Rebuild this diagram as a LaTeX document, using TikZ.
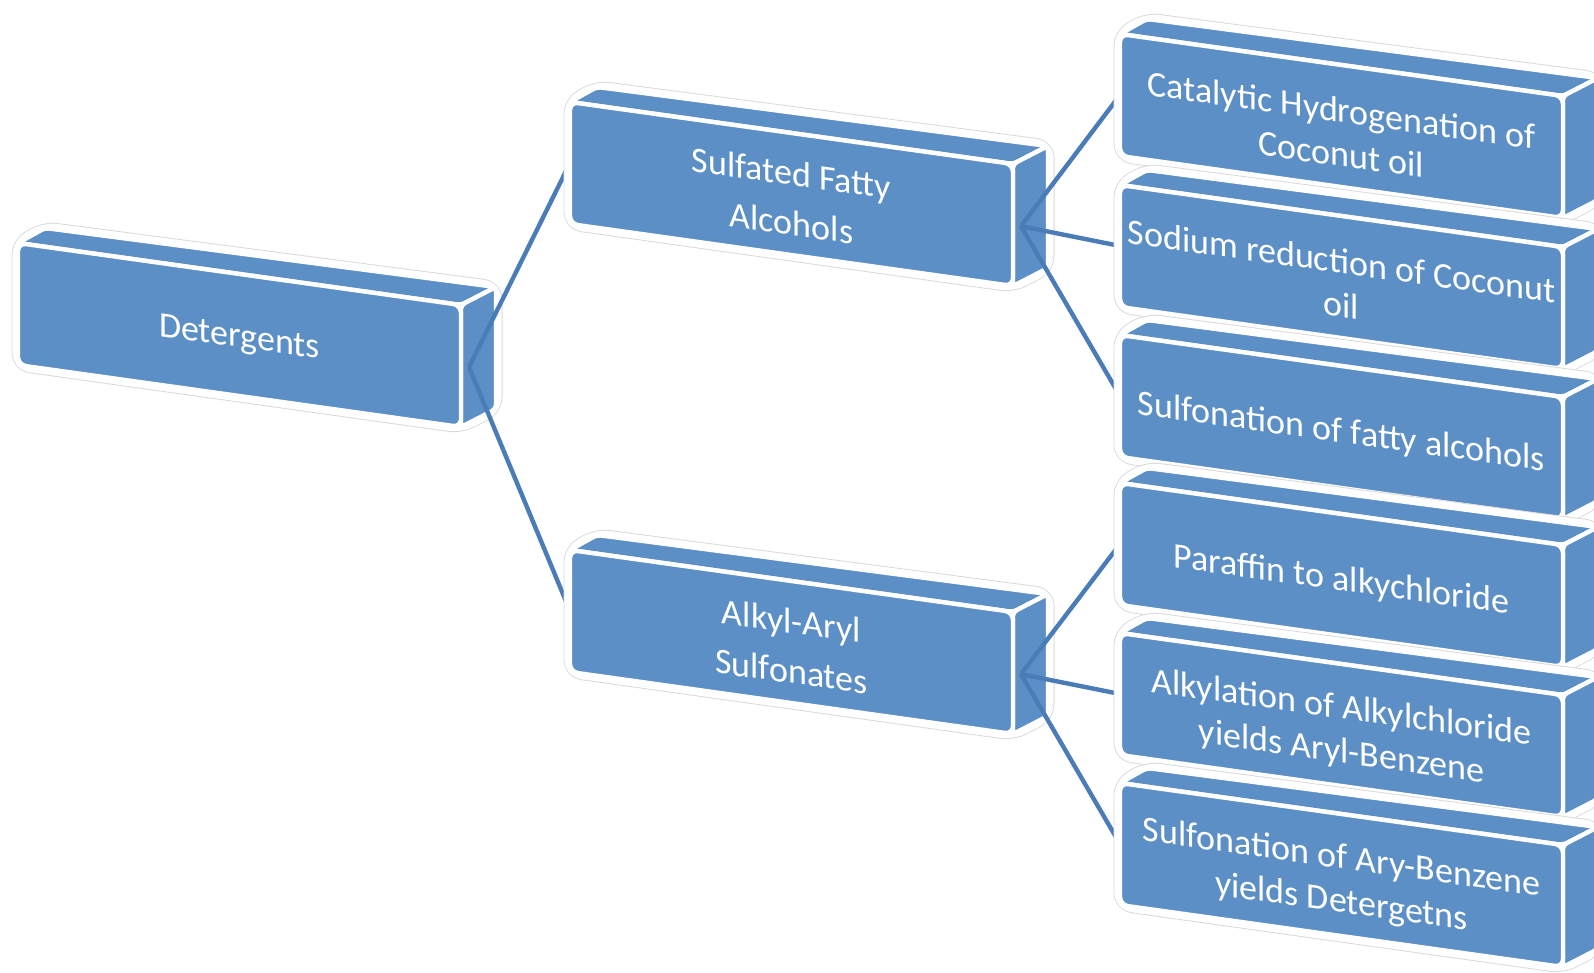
\documentclass[tikz,border=0pt]{standalone}
\usepackage{fontspec}
\setmainfont{Carlito}

\definecolor{slabblue}{HTML}{5B8FC6}
\definecolor{linkblue}{HTML}{4A7DB8}

\tikzset{
    slabhalo/.style={draw=black!15, line width=6.5pt, line join=round, rounded corners=6pt},
    slabglow/.style={draw=white, line width=5.6pt, line join=round, rounded corners=6pt},
    slabface/.style={fill=slabblue, draw=white, line width=2.2pt, line join=round, rounded corners=2pt},
    topitem/.style={text=white, align=center, font=\fontsize{18}{25}\selectfont, transform shape, yshift=-2pt},
    subitem/.style={text=white, align=center, font=\fontsize{18}{22}\selectfont, transform shape, yshift=-3pt},
    link/.style={draw=linkblue, line width=2.2pt}
}

% connector pins of a slab: name, x, y (top-left of front face, pixels)
\newcommand{\slabpins}[3]{%
    \begin{scope}[shift={(#2,-#3)}, yslant=-0.14]
        \coordinate (#1-in) at (0,-61);
        \coordinate (#1-out) at (451,-61);
    \end{scope}}

% 3D slab: name, x, y (top-left of front face, pixels), text, text style
\newcommand{\slab}[5]{%
    \begin{scope}[shift={(#2,-#3)}, yslant=-0.14]
        \draw[slabhalo] (0,-61) -- (0,0) -- (27,18.8) -- (478,22.9) -- (478,-99.1) -- (443,-122) -- (0,-122) -- cycle;
        \draw[slabglow] (0,-61) -- (0,0) -- (27,18.8) -- (478,22.9) -- (478,-99.1) -- (443,-122) -- (0,-122) -- cycle;
        \draw[slabface] (0,0) -- (27,18.8) -- (478,22.9) -- (443,0) -- cycle;
        \draw[slabface] (443,0) -- (478,22.9) -- (478,-99.1) -- (443,-122) -- cycle;
        \draw[slabface, rounded corners=4pt] (0,0) rectangle (443,-122);
        \node[#5] (#1) at (221.5,-61) {#4};
    \end{scope}}

\begin{document}
\begin{tikzpicture}[x=0.5pt, y=0.5pt]

        \useasboundingbox (0,0) rectangle (1594,-973);
        \clip (0,0) rectangle (1594,-973);

        % pins first, so that links can run behind the children
        \slabpins{det}{18}{243}
        \slabpins{sfa}{570}{102}
        \slabpins{aas}{570}{550}
        \slabpins{cat}{1120}{34}
        \slabpins{sod}{1120}{185}
        \slabpins{sfo}{1120}{335}
        \slabpins{par}{1120}{483}
        \slabpins{alk}{1120}{633}
        \slabpins{sab}{1120}{783}

        % -----------------------------------------------------------------
        % RADICE
        % -----------------------------------------------------------------
        \slab{det}{18}{243}{Detergents}{topitem}

        \draw[link] (det-out) -- (sfa-in);
        \draw[link] (det-out) -- (aas-in);

        % -----------------------------------------------------------------
        % PRIMO LIVELLO
        % -----------------------------------------------------------------
        \slab{sfa}{570}{102}{Sulfated Fatty\\Alcohols}{topitem}
        \slab{aas}{570}{550}{Alkyl-Aryl\\Sulfonates}{topitem}

        \draw[link] (sfa-out) -- (cat-in);
        \draw[link] (sfa-out) -- (sod-in);
        \draw[link] (sfa-out) -- (sfo-in);

        \draw[link] (aas-out) -- (par-in);
        \draw[link] (aas-out) -- (alk-in);
        \draw[link] (aas-out) -- (sab-in);

        % -----------------------------------------------------------------
        % SECONDO LIVELLO
        % -----------------------------------------------------------------
        \slab{cat}{1120}{34}{Catalytic Hydrogenation of\\Coconut oil}{subitem}
        \slab{sod}{1120}{185}{Sodium reduction of Coconut\\oil}{subitem}
        \slab{sfo}{1120}{335}{Sulfonation of fatty alcohols}{subitem}
        \slab{par}{1120}{483}{Paraffin to alkychloride}{subitem}
        \slab{alk}{1120}{633}{Alkylation of Alkylchloride\\yields Aryl-Benzene}{subitem}
        \slab{sab}{1120}{783}{Sulfonation of Ary-Benzene\\yields Detergetns}{subitem}

\end{tikzpicture}
\end{document}
